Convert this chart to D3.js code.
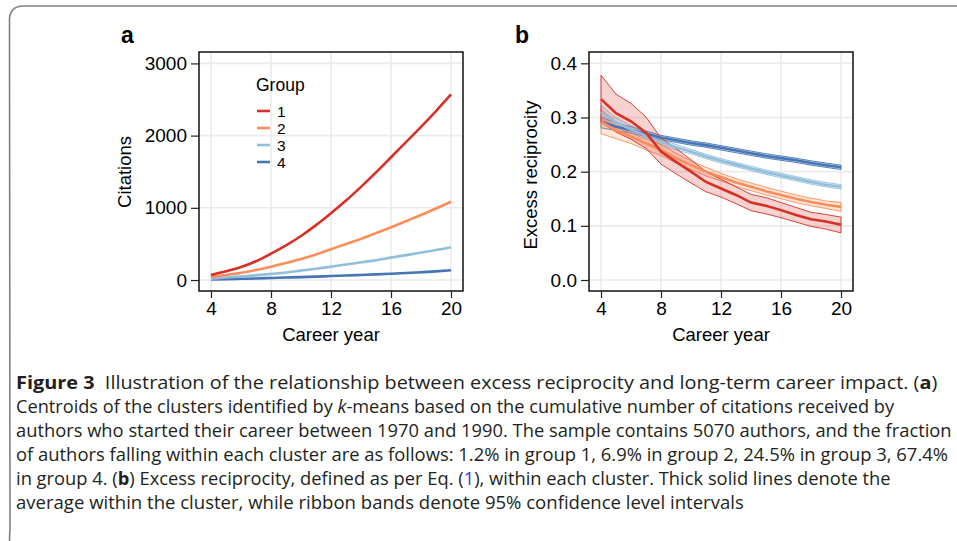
<!DOCTYPE html>
<html>
<head>
<meta charset="utf-8">
<script src="https://cdn.jsdelivr.net/npm/d3@7"></script>
<style>
  body { margin: 0; background: #fff; }
  svg { display: block; }
  .tick text { font-family: "Liberation Sans", Arial, sans-serif; }
</style>
</head>
<body>
<div id="chart"></div>
<script>
// career years shown on both panels
const years = d3.range(4, 21);
const groups = ["1", "2", "3", "4"];
const groupColors = ["#d73027", "#fc8d59", "#91bfdb", "#4575b4"];

// panel a: cumulative citations (cluster centroids)
const citations1 = [70, 120, 180, 260, 365, 480, 610, 760, 925, 1100, 1290, 1490, 1700, 1910, 2120, 2340, 2570];
const citations2 = [45, 70, 100, 140, 185, 235, 290, 355, 425, 500, 570, 650, 730, 815, 900, 990, 1085];
const citations3 = [20, 35, 50, 65, 85, 105, 130, 155, 185, 215, 245, 275, 310, 345, 380, 415, 455];
const citations4 = [8, 12, 17, 22, 28, 34, 40, 47, 55, 62, 70, 78, 87, 97, 108, 120, 135];

// panel b: excess reciprocity, mean and 95% CI per group
const recipMean1 = [0.334, 0.308, 0.293, 0.272, 0.237, 0.218, 0.200, 0.181, 0.169, 0.157, 0.143, 0.137, 0.129, 0.120, 0.112, 0.108, 0.102];
const recipHigh1 = [0.378, 0.343, 0.326, 0.301, 0.262, 0.243, 0.222, 0.200, 0.186, 0.172, 0.158, 0.152, 0.143, 0.134, 0.125, 0.121, 0.116];
const recipLow1 = [0.291, 0.273, 0.260, 0.243, 0.214, 0.196, 0.179, 0.163, 0.153, 0.141, 0.128, 0.122, 0.115, 0.107, 0.099, 0.094, 0.087];

const recipMean2 = [0.292, 0.276, 0.265, 0.252, 0.240, 0.225, 0.212, 0.200, 0.190, 0.180, 0.172, 0.164, 0.157, 0.150, 0.144, 0.139, 0.135];
const recipHigh2 = [0.315, 0.292, 0.279, 0.264, 0.250, 0.234, 0.220, 0.208, 0.197, 0.187, 0.179, 0.171, 0.164, 0.157, 0.151, 0.146, 0.143];
const recipLow2 = [0.270, 0.261, 0.252, 0.240, 0.230, 0.216, 0.204, 0.192, 0.183, 0.173, 0.165, 0.157, 0.150, 0.143, 0.137, 0.132, 0.127];

const recipMean3 = [0.310, 0.291, 0.278, 0.266, 0.255, 0.245, 0.237, 0.228, 0.220, 0.213, 0.206, 0.199, 0.193, 0.187, 0.181, 0.176, 0.172];
const recipHigh3 = [0.322, 0.299, 0.285, 0.272, 0.260, 0.250, 0.241, 0.232, 0.224, 0.217, 0.210, 0.203, 0.197, 0.191, 0.185, 0.180, 0.176];
const recipLow3 = [0.298, 0.283, 0.271, 0.260, 0.250, 0.240, 0.233, 0.224, 0.216, 0.209, 0.202, 0.195, 0.189, 0.183, 0.177, 0.172, 0.168];

const recipMean4 = [0.292, 0.283, 0.277, 0.270, 0.263, 0.258, 0.253, 0.249, 0.244, 0.239, 0.234, 0.229, 0.225, 0.221, 0.216, 0.212, 0.208];
const recipHigh4 = [0.301, 0.290, 0.283, 0.275, 0.267, 0.262, 0.257, 0.253, 0.248, 0.243, 0.238, 0.233, 0.229, 0.225, 0.220, 0.216, 0.212];
const recipLow4 = [0.281, 0.276, 0.271, 0.265, 0.259, 0.254, 0.249, 0.245, 0.240, 0.235, 0.230, 0.225, 0.221, 0.217, 0.212, 0.208, 0.204];

const xTicks = [4, 8, 12, 16, 20];
const citationTicks = [0, 1000, 2000, 3000];
const recipTicks = [0.0, 0.1, 0.2, 0.3, 0.4];

const captionLines = [
  [["Figure 3", "b"], ["  Illustration of the relationship between excess reciprocity and long-term career impact. ("], ["a", "b"], [")"]],
  [["Centroids of the clusters identified by "], ["k", "i"], ["-means based on the cumulative number of citations received by"]],
  [["authors who started their career between 1970 and 1990. The sample contains 5070 authors, and the fraction"]],
  [["of authors falling within each cluster are as follows: 1.2% in group 1, 6.9% in group 2, 24.5% in group 3, 67.4%"]],
  [["in group 4. ("], ["b", "b"], [") Excess reciprocity, defined as per Eq. ("], ["1", "link"], ["), within each cluster. Thick solid lines denote the"]],
  [["average within the cluster, while ribbon bands denote 95% confidence level intervals"]]
];
const captionEnds = [938, 895, 952, 949, 891, 744];

const width = 957, height = 541;
const svg = d3.select("#chart").append("svg")
  .attr("width", width)
  .attr("height", height);

// outer figure frame (top and left edge with rounded corner)
svg.append("path")
  .attr("d", "M9.5,541 Q9.5,536 10,530 L9.5,20 Q9.5,6 24,6 L957,6")
  .attr("fill", "none")
  .attr("stroke", "#808080")
  .attr("stroke-width", 1.6);

const axisFont = "'Liberation Sans', Arial, sans-serif";

function drawPanel(opts) {
  const g = svg.append("g");
  const x = d3.scaleLinear().domain([3.2, 20.8]).range([opts.left, opts.left + 264]);
  const y = d3.scaleLinear().domain(opts.yDomain).range([291, 52]);

  // grid
  g.append("g").selectAll("line.gx").data(xTicks).join("line")
    .attr("x1", d => x(d)).attr("x2", d => x(d))
    .attr("y1", 52).attr("y2", 291)
    .attr("stroke", "#ebebeb").attr("stroke-width", 1.6);
  g.append("g").selectAll("line.gy").data(opts.yTicks).join("line")
    .attr("x1", opts.left).attr("x2", opts.left + 264)
    .attr("y1", d => y(d)).attr("y2", d => y(d))
    .attr("stroke", "#ebebeb").attr("stroke-width", 1.6);

  const plot = g.append("g");
  opts.draw(plot, x, y);

  // panel border
  g.append("rect")
    .attr("x", opts.left).attr("y", 52)
    .attr("width", 264).attr("height", 239)
    .attr("fill", "none").attr("stroke", "#000").attr("stroke-width", 1.4);

  const xAxis = d3.axisBottom(x).tickValues(xTicks).tickSize(7).tickPadding(4);
  const gx = g.append("g").attr("transform", "translate(0,291)").call(xAxis);
  gx.select(".domain").remove();
  gx.selectAll(".tick line").attr("stroke", "#222").attr("stroke-width", 1.2);
  gx.selectAll(".tick text").attr("font-size", 19).attr("fill", "#000");

  const yAxis = d3.axisLeft(y).tickValues(opts.yTicks).tickFormat(opts.yFormat).tickSize(8).tickPadding(4);
  const gy = g.append("g").attr("transform", `translate(${opts.left},0)`).call(yAxis);
  gy.select(".domain").remove();
  gy.selectAll(".tick line").attr("stroke", "#222").attr("stroke-width", 1.2);
  gy.selectAll(".tick text").attr("font-size", 19).attr("fill", "#000");

  g.append("text")
    .attr("x", opts.left + 132).attr("y", 341)
    .attr("text-anchor", "middle")
    .attr("font-family", axisFont).attr("font-size", 18.5).attr("fill", "#000")
    .text("Career year");

  g.append("text")
    .attr("transform", `translate(${opts.titleX},${opts.titleY}) rotate(-90)`)
    .attr("text-anchor", "middle")
    .attr("font-family", axisFont).attr("font-size", 18.5).attr("fill", "#000")
    .text(opts.yTitle);

  g.append("text")
    .attr("x", opts.labelX).attr("y", 43)
    .attr("font-family", axisFont).attr("font-size", 23).attr("font-weight", "bold")
    .text(opts.label);
}

// panel a
const citationSeries = [citations1, citations2, citations3, citations4];
drawPanel({
  left: 199,
  yDomain: [-152, 3158],
  yTicks: citationTicks,
  yFormat: d3.format("d"),
  yTitle: "Citations",
  titleX: 131, titleY: 172,
  label: "a", labelX: 121,
  draw(plot, x, y) {
    const ln = d3.line().x((d, i) => x(years[i])).y(d => y(d)).curve(d3.curveMonotoneX);
    citationSeries.slice().reverse().forEach((s, k) => {
      const i = citationSeries.length - 1 - k;
      plot.append("path").datum(s)
        .attr("d", ln)
        .attr("fill", "none")
        .attr("stroke", groupColors[i])
        .attr("stroke-width", 2.6);
    });

    // legend
    const lg = plot.append("g");
    lg.append("text").attr("x", 256).attr("y", 91)
      .attr("font-family", axisFont).attr("font-size", 17.5).attr("fill", "#000")
      .text("Group");
    groups.forEach((name, i) => {
      const cy = 111 + i * 17;
      lg.append("line")
        .attr("x1", 257).attr("x2", 270).attr("y1", cy).attr("y2", cy)
        .attr("stroke", groupColors[i]).attr("stroke-width", 2.6);
      lg.append("text").attr("x", 277).attr("y", cy + 5.5)
        .attr("font-family", axisFont).attr("font-size", 15.5).attr("fill", "#000")
        .text(name);
    });
  }
});

// panel b
const recipSeries = [
  { mean: recipMean1, high: recipHigh1, low: recipLow1 },
  { mean: recipMean2, high: recipHigh2, low: recipLow2 },
  { mean: recipMean3, high: recipHigh3, low: recipLow3 },
  { mean: recipMean4, high: recipHigh4, low: recipLow4 }
];
drawPanel({
  left: 589,
  yDomain: [-0.0203, 0.4209],
  yTicks: recipTicks,
  yFormat: d3.format(".1f"),
  yTitle: "Excess reciprocity",
  titleX: 537, titleY: 175,
  label: "b", labelX: 515,
  draw(plot, x, y) {
    const band = d3.area()
      .x((d, i) => x(years[i]))
      .y0(d => y(d[0]))
      .y1(d => y(d[1]));
    const ln = d3.line().x((d, i) => x(years[i])).y(d => y(d));

    const order = [3, 2, 1, 0];
    order.forEach(i => {
      const s = recipSeries[i];
      const pairs = s.low.map((v, j) => [v, s.high[j]]);
      plot.append("path").datum(pairs)
        .attr("d", band)
        .attr("fill", groupColors[i])
        .attr("fill-opacity", 0.22)
        .attr("stroke", groupColors[i])
        .attr("stroke-width", 0.9);
    });
    order.forEach(i => {
      plot.append("path").datum(recipSeries[i].mean)
        .attr("d", ln)
        .attr("fill", "none")
        .attr("stroke", groupColors[i])
        .attr("stroke-width", 2.6);
    });
  }
});

// caption
const cap = svg.append("g")
  .attr("font-family", "'Open Sans', 'Noto Sans', sans-serif")
  .attr("font-size", 18.5)
  .attr("fill", "#231f20");
captionLines.forEach((parts, i) => {
  const t = cap.append("text").attr("x", 0).attr("y", 0);
  parts.forEach(([str, style]) => {
    const ts = t.append("tspan").attr("xml:space", "preserve").text(str);
    if (style === "b") ts.attr("font-weight", "bold");
    if (style === "i") ts.attr("font-style", "italic");
    if (style === "link") ts.attr("fill", "#3b3bd6");
  });
  t.style("white-space", "pre");
  const w = t.node().getComputedTextLength();
  const sx = (captionEnds[i] - 16) / w;
  t.attr("transform", `translate(16,${389 + i * 24}) scale(${sx},1)`);
});
</script>
</body>
</html>
